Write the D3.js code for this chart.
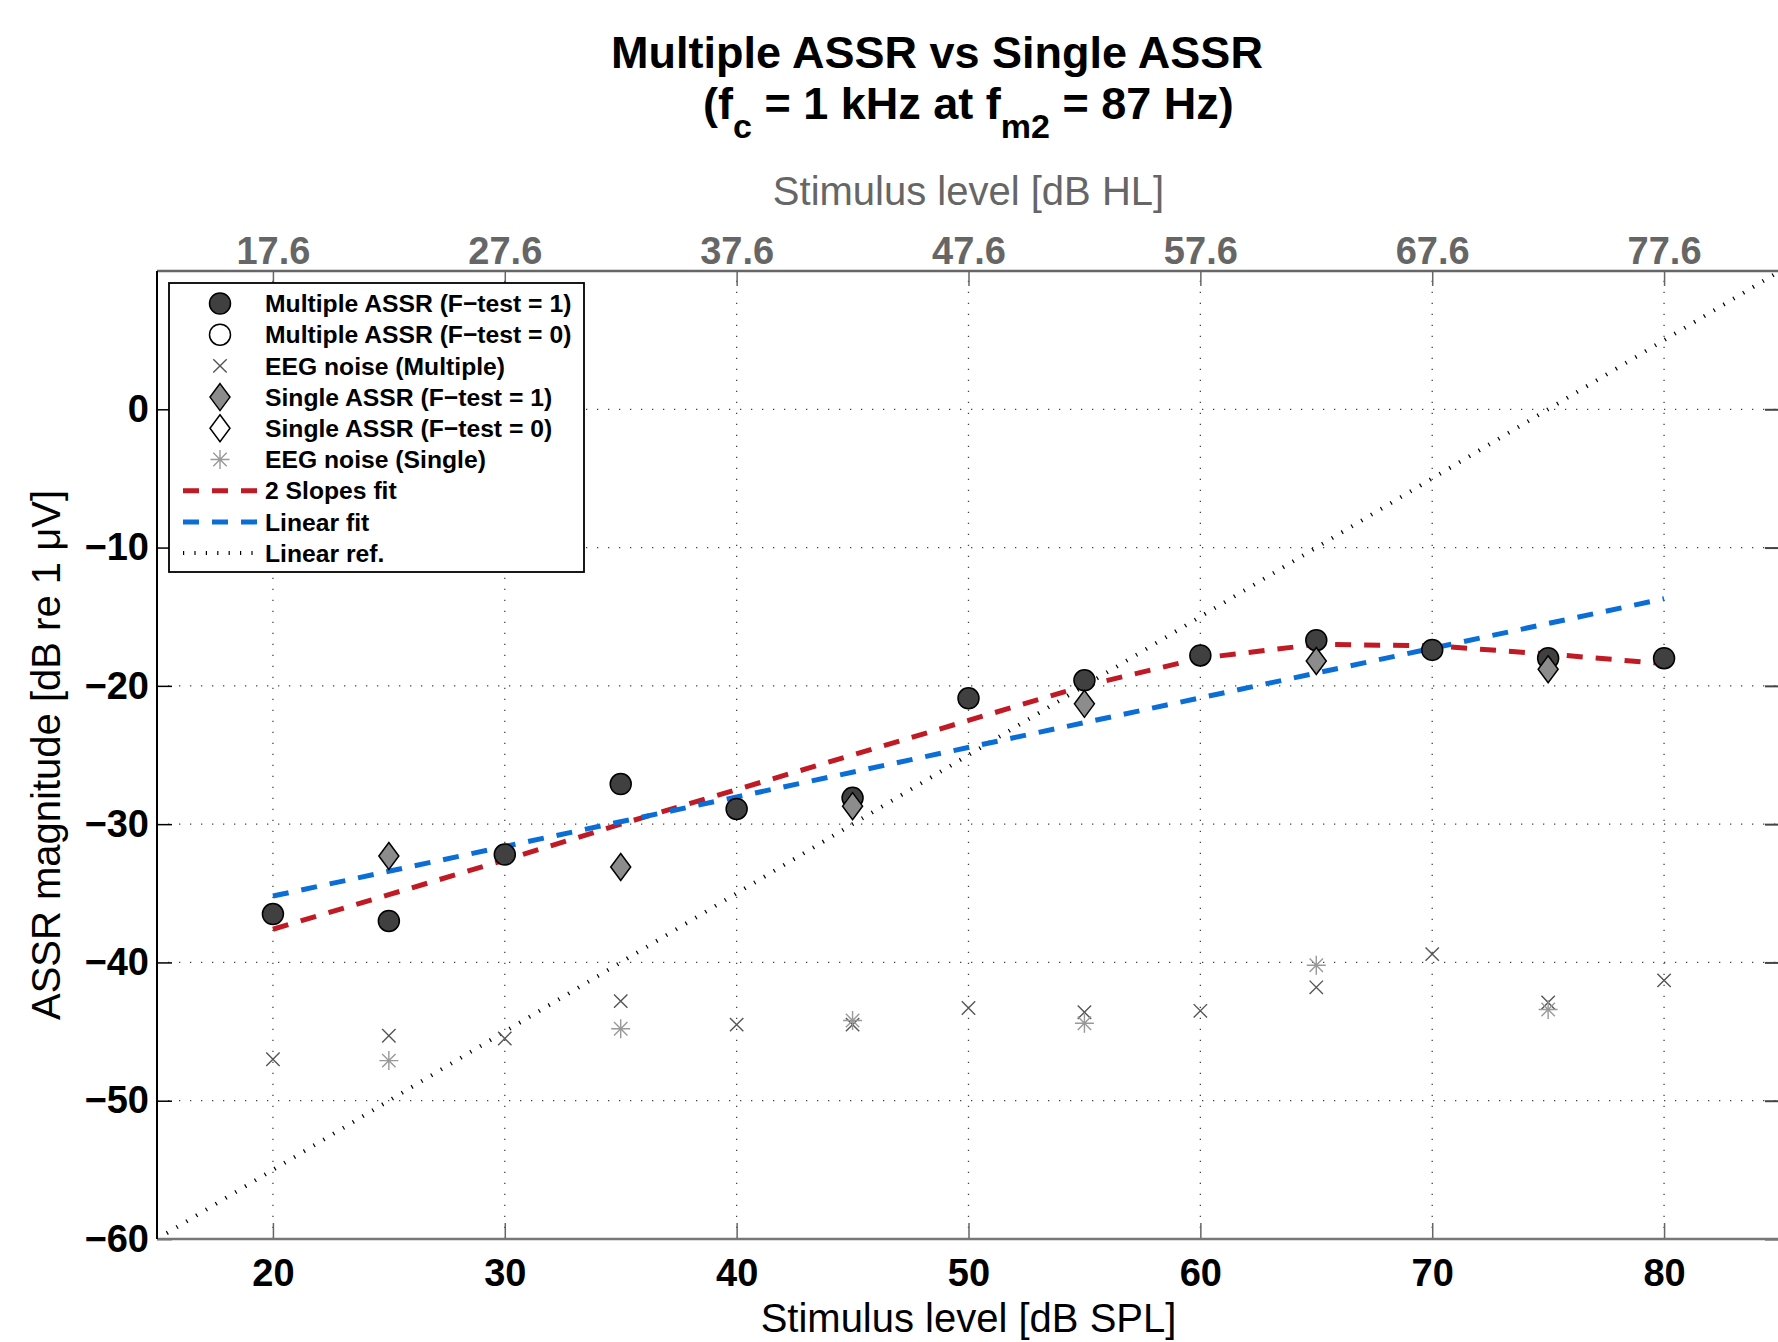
<!DOCTYPE html>
<html>
<head>
<meta charset="utf-8">
<style>
html, body { margin:0; padding:0; background:white; }
svg { display:block; font-family:"Liberation Sans", Arial, Helvetica, sans-serif; }
</style>
</head>
<body>
<div id="chart"></div>
<script src="https://cdnjs.cloudflare.com/ajax/libs/d3/7.8.5/d3.min.js"></script>
<script>
// stimulus levels in dB SPL
const levels = [20, 25, 30, 35, 40, 45, 50, 55, 60, 65, 70, 75, 80];
// multiple ASSR (all F-test = 1) and its EEG noise
const multiAssr  = [-36.5, -37.0, -32.2, -27.1, -28.9, -28.1, -20.9, -19.6, -17.8, -16.7, -17.4, -18.0, -18.0];
const multiNoise = [-47.0, -45.3, -45.5, -42.8, -44.5, -44.5, -43.3, -43.6, -43.5, -41.8, -39.4, -42.9, -41.3];
// single ASSR, only every 10 dB
const singleLevels = [25, 35, 45, 55, 65, 75];
const singleAssr   = [-32.3, -33.1, -28.7, -21.3, -18.2, -18.8];
const singleNoise  = [-47.1, -44.8, -44.2, -44.4, -40.2, -43.4];
// fits
const twoSlopeFit = [-37.6, -35.1, -32.6, -30.0, -27.5, -25.0, -22.5, -20.0, -18.0, -17.0, -17.1, -17.7, -18.4];
const linFitX = [20, 80];
const linFitY = [-35.2, -13.7];
const refX = [15, 85];
const refY = [-60, 10];
// axes
const xTicks = [20, 30, 40, 50, 60, 70, 80];
const hlLabels = ["17.6", "27.6", "37.6", "47.6", "57.6", "67.6", "77.6"];
const yTicks = [-60, -50, -40, -30, -20, -10, 0];
const legendLabels = ["Multiple ASSR (F\u2212test = 1)", "Multiple ASSR (F\u2212test = 0)", "EEG noise (Multiple)",
  "Single ASSR (F\u2212test = 1)", "Single ASSR (F\u2212test = 0)", "EEG noise (Single)",
  "2 Slopes fit", "Linear fit", "Linear ref."];

const W = 1778, H = 1342;
const L = 157, R = 1780, T = 271, B = 1239;
const red = "#c01a24", blue = "#0a6ed6";

const svg = d3.select("#chart").append("svg")
  .attr("width", W).attr("height", H);

const x = d3.scaleLinear().domain([15, 85]).range([L, R]);
const y = d3.scaleLinear().domain([-60, 10]).range([B, T]);

svg.append("defs").append("clipPath").attr("id", "clip")
  .append("rect").attr("x", L).attr("y", T).attr("width", R - L).attr("height", B - T);

// grid
const grid = svg.append("g").attr("stroke", "#444").attr("stroke-width", 1.3).attr("stroke-dasharray", "1.3,9.7");
grid.selectAll(".vg").data(xTicks).enter().append("line")
  .attr("x1", d => x(d)).attr("x2", d => x(d)).attr("y1", B).attr("y2", T);
grid.selectAll(".hg").data(yTicks.slice(1)).enter().append("line")
  .attr("y1", d => y(d)).attr("y2", d => y(d)).attr("x1", L).attr("x2", R);

const plot = svg.append("g").attr("clip-path", "url(#clip)");

// lines
const line = d3.line().x(d => x(d[0])).y(d => y(d[1]));
plot.append("path").datum(d3.zip(refX, refY)).attr("d", line)
  .attr("fill", "none").attr("stroke", "#000").attr("stroke-width", 4).attr("stroke-dasharray", "1.2,10.2");
plot.append("path").datum(d3.zip(levels, twoSlopeFit)).attr("d", line)
  .attr("fill", "none").attr("stroke", red).attr("stroke-width", 5).attr("stroke-dasharray", "16,13");
plot.append("path").datum(d3.zip(linFitX, linFitY)).attr("d", line)
  .attr("fill", "none").attr("stroke", blue).attr("stroke-width", 5).attr("stroke-dasharray", "16,13");

// marker helpers
function circle(g, cx, cy, fill) {
  g.append("circle").attr("cx", cx).attr("cy", cy).attr("r", 10.5)
    .attr("fill", fill).attr("stroke", "#000").attr("stroke-width", 1.5);
}
function cross(g, cx, cy) {
  const s = 6.7;
  g.append("path").attr("d", `M${cx-s},${cy-s}L${cx+s},${cy+s}M${cx-s},${cy+s}L${cx+s},${cy-s}`)
    .attr("stroke", "#555").attr("stroke-width", 1.4).attr("fill", "none");
}
function diamond(g, cx, cy, fill) {
  g.append("path").attr("d", `M${cx},${cy-13.5}L${cx+10},${cy}L${cx},${cy+13.5}L${cx-10},${cy}Z`)
    .attr("fill", fill).attr("stroke", "#000").attr("stroke-width", 1.5);
}
function star(g, cx, cy) {
  const s = 9.5, d = 6.7;
  g.append("path").attr("d", `M${cx},${cy-s}L${cx},${cy+s}M${cx-s},${cy}L${cx+s},${cy}M${cx-d},${cy-d}L${cx+d},${cy+d}M${cx-d},${cy+d}L${cx+d},${cy-d}`)
    .attr("stroke", "#999").attr("stroke-width", 1.4).attr("fill", "none");
}

levels.forEach((lv, i) => circle(plot, x(lv), y(multiAssr[i]), "#404040"));
levels.forEach((lv, i) => cross(plot, x(lv), y(multiNoise[i])));
singleLevels.forEach((lv, i) => diamond(plot, x(lv), y(singleAssr[i]), "#8c8c8c"));
singleLevels.forEach((lv, i) => star(plot, x(lv), y(singleNoise[i])));

// axes
const fontTick = 38;
const gBottom = svg.append("g").attr("transform", `translate(0,${B})`)
  .call(d3.axisBottom(x).tickValues(xTicks).tickSizeInner(-16).tickSizeOuter(0).tickPadding(20));
const gTop = svg.append("g").attr("transform", `translate(0,${T})`)
  .call(d3.axisTop(x).tickValues(xTicks).tickFormat((d, i) => hlLabels[i]).tickSizeInner(-15).tickSizeOuter(0).tickPadding(7));
const gLeft = svg.append("g").attr("transform", `translate(${L},0)`)
  .call(d3.axisLeft(y).tickValues(yTicks).tickSizeInner(-15).tickSizeOuter(0).tickPadding(8));
const gRight = svg.append("g").attr("transform", `translate(${R},0)`)
  .call(d3.axisRight(y).tickValues(yTicks).tickSizeInner(-15).tickSizeOuter(0).tickFormat(""));

[gBottom, gTop, gLeft, gRight].forEach(g => {
  g.select(".domain").remove();
  g.selectAll("text").attr("font-size", fontTick).attr("font-weight", "bold").attr("font-family", "Liberation Sans, Arial, sans-serif");
});
gBottom.selectAll("line").attr("stroke", "#666").attr("stroke-width", 1.5);
gBottom.selectAll("text").attr("fill", "#000");
gTop.selectAll("line").attr("stroke", "#666").attr("stroke-width", 1.5);
gTop.selectAll("text").attr("fill", "#666");
gLeft.selectAll("line").attr("stroke", "#000").attr("stroke-width", 1.5);
gLeft.selectAll("text").attr("fill", "#000");
gRight.selectAll("line").attr("stroke", "#444").attr("stroke-width", 2);

// box
svg.append("line").attr("x1", L).attr("x2", R).attr("y1", B).attr("y2", B).attr("stroke", "#777").attr("stroke-width", 2.5);
svg.append("line").attr("x1", L).attr("x2", R).attr("y1", T).attr("y2", T).attr("stroke", "#666").attr("stroke-width", 2.5);
svg.append("line").attr("x1", L).attr("x2", L).attr("y1", T).attr("y2", B).attr("stroke", "#000").attr("stroke-width", 2);

// axis labels
svg.append("text").attr("x", (L + R) / 2).attr("y", 1332).attr("text-anchor", "middle")
  .attr("font-size", 40).attr("fill", "#000").text("Stimulus level [dB SPL]");
svg.append("text").attr("x", (L + R) / 2).attr("y", 205).attr("text-anchor", "middle")
  .attr("font-size", 40).attr("fill", "#666").text("Stimulus level [dB HL]");
svg.append("text").attr("transform", `translate(60,${(T + B) / 2}) rotate(-90)`).attr("text-anchor", "middle")
  .attr("font-size", 40).attr("fill", "#000").text("ASSR magnitude [dB re 1 \u03BCV]");

// title (two separate lines)
svg.append("text").attr("x", 937).attr("y", 68).attr("text-anchor", "middle")
  .attr("font-size", 45).attr("font-weight", "bold").text("Multiple ASSR vs Single ASSR");
const t2 = svg.append("text").attr("x", 703).attr("y", 119)
  .attr("font-size", 45).attr("font-weight", "bold");
t2.append("tspan").text("(f");
t2.append("tspan").attr("font-size", 34).attr("dy", 19).text("c");
t2.append("tspan").attr("dy", -19).text("\u00A0= 1 kHz at f");
t2.append("tspan").attr("font-size", 34).attr("dy", 19).text("m2");
t2.append("tspan").attr("dy", -19).text("\u00A0= 87 Hz)");

// legend
const lg = svg.append("g");
lg.append("rect").attr("x", 169).attr("y", 283).attr("width", 415).attr("height", 289)
  .attr("fill", "white").attr("stroke", "#000").attr("stroke-width", 1.8);
const rowY = i => 303.5 + i * 31.2;
const mx = 220;
circle(lg, mx, rowY(0), "#404040");
circle(lg, mx, rowY(1), "white");
cross(lg, mx, rowY(2));
diamond(lg, mx, rowY(3), "#8c8c8c");
diamond(lg, mx, rowY(4), "white");
star(lg, mx, rowY(5));
lg.append("line").attr("x1", 183).attr("x2", 257).attr("y1", rowY(6)).attr("y2", rowY(6))
  .attr("stroke", red).attr("stroke-width", 5).attr("stroke-dasharray", "16,13");
lg.append("line").attr("x1", 183).attr("x2", 257).attr("y1", rowY(7)).attr("y2", rowY(7))
  .attr("stroke", blue).attr("stroke-width", 5).attr("stroke-dasharray", "16,13");
lg.append("line").attr("x1", 183).attr("x2", 257).attr("y1", rowY(8)).attr("y2", rowY(8))
  .attr("stroke", "#000").attr("stroke-width", 4).attr("stroke-dasharray", "1.2,10.2");
lg.selectAll(".lt").data(legendLabels).enter().append("text")
  .attr("x", 265).attr("y", (d, i) => rowY(i)).attr("dy", "0.35em")
  .attr("font-size", 24.7).attr("font-weight", "bold").attr("fill", "#000").text(d => d);
</script>
</body>
</html>
